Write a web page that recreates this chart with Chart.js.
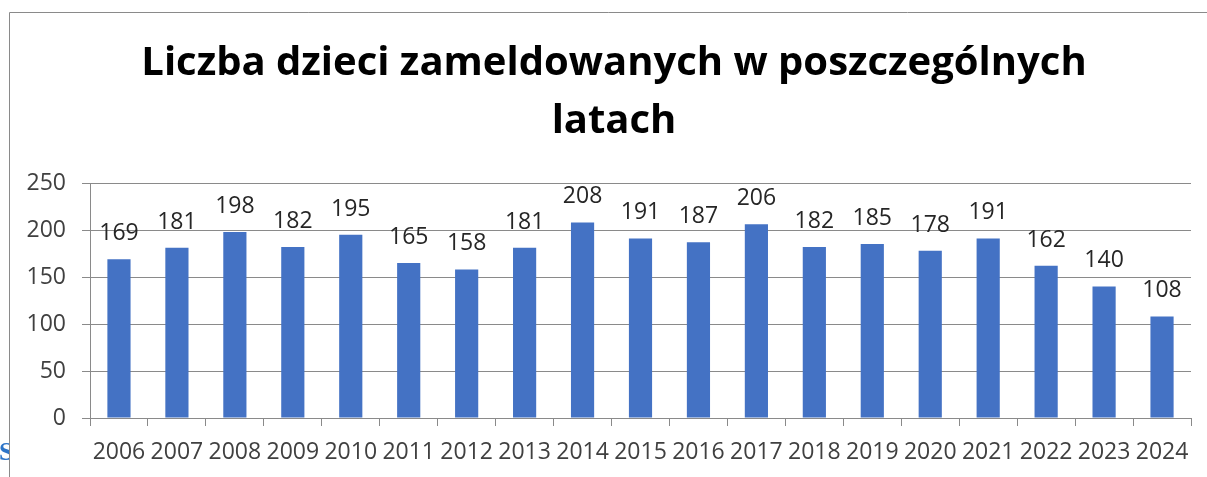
<!DOCTYPE html>
<html>
<head>
<meta charset="utf-8">
<script src="https://cdn.jsdelivr.net/npm/chart.js@4.4.1/dist/chart.umd.min.js"></script>
<style>
    html, body { margin: 0; padding: 0; background: #fff; }
    #wrap { position: relative; width: 1207px; height: 477px; }
</style>
</head>
<body>
<div id="wrap"><canvas id="chart" width="1207" height="477"></canvas></div>
<script>
// Data
const years = ['2006', '2007', '2008', '2009', '2010', '2011', '2012', '2013', '2014', '2015',
    '2016', '2017', '2018', '2019', '2020', '2021', '2022', '2023', '2024'];
const children = [169, 181, 198, 182, 195, 165, 158, 181, 208, 191, 187, 206, 182, 185, 178, 191, 162, 140, 108];
const yTicks = [0, 50, 100, 150, 200, 250];
const titleLines = ['Liczba dzieci zameldowanych w poszczególnych', 'latach'];

const tickFont = { family: '"Open Sans", sans-serif', size: 23 };

// Value labels above each bar
const valueLabels = {
    id: 'valueLabels',
    afterDatasetsDraw(chart) {
        const ctx = chart.ctx;
        const meta = chart.getDatasetMeta(0);
        ctx.save();
        ctx.font = '23px "Open Sans", sans-serif';
        ctx.fillStyle = '#262626';
        ctx.textAlign = 'center';
        ctx.textBaseline = 'alphabetic';
        meta.data.forEach((bar, i) => {
            ctx.fillText(String(children[i]), bar.x, bar.y - 19);
        });
        ctx.restore();
    }
};

// Title in the original is centred a bit right of the canvas middle
const titleShift = {
    id: 'titleShift',
    afterLayout(chart) {
        if (chart.titleBlock) chart.titleBlock.left = 37;
    }
};

// Frame of the slide around the chart, plus the clipped letter peeking on the left
const frame = {
    id: 'frame',
    afterDraw(chart) {
        const ctx = chart.ctx;
        ctx.save();
        ctx.beginPath();
        ctx.rect(0, 0, 9, chart.height);
        ctx.clip();
        ctx.font = 'bold 26px "Liberation Serif", serif';
        ctx.fillStyle = '#2e75c8';
        ctx.textBaseline = 'alphabetic';
        ctx.fillText('S', -1, 460);
        ctx.restore();

        ctx.save();
        ctx.strokeStyle = '#8a8a8a';
        ctx.lineWidth = 1;
        ctx.beginPath();
        ctx.moveTo(9.5, chart.height);
        ctx.lineTo(9.5, 12.5);
        ctx.lineTo(chart.width, 12.5);
        ctx.stroke();
        ctx.restore();
    }
};

new Chart(document.getElementById('chart').getContext('2d'), {
    type: 'bar',
    data: {
        labels: years,
        datasets: [{
            data: children,
            backgroundColor: '#4472c4',
            borderWidth: 0,
            barPercentage: 0.4,
            categoryPercentage: 1.0
        }]
    },
    options: {
        responsive: false,
        animation: false,
        layout: { padding: { left: 0, right: 16, top: 0, bottom: 0 } },
        plugins: {
            legend: { display: false },
            tooltip: { enabled: false },
            title: {
                display: true,
                text: titleLines,
                color: '#000',
                font: { family: '"Open Sans", sans-serif', size: 40, weight: 'bold', lineHeight: 1.45 },
                padding: { top: 35, bottom: 32 }
            }
        },
        scales: {
            x: {
                grid: {
                    offset: true,
                    drawOnChartArea: false,
                    drawTicks: true,
                    tickLength: 8,
                    color: '#8a8a8a'
                },
                border: { color: '#8a8a8a' },
                ticks: { color: '#404040', font: tickFont, padding: 13, maxRotation: 0, autoSkip: false },
                afterFit(scale) { scale.height = 59; }
            },
            y: {
                min: 0,
                max: 250,
                afterBuildTicks(scale) { scale.ticks = yTicks.map(v => ({ value: v })); },
                grid: { color: '#8a8a8a', tickLength: 8 },
                border: { color: '#8a8a8a' },
                ticks: { color: '#404040', font: tickFont, padding: 16 },
                afterFit(scale) { scale.width = 90; }
            }
        }
    },
    plugins: [valueLabels, titleShift, frame]
});
</script>
</body>
</html>
